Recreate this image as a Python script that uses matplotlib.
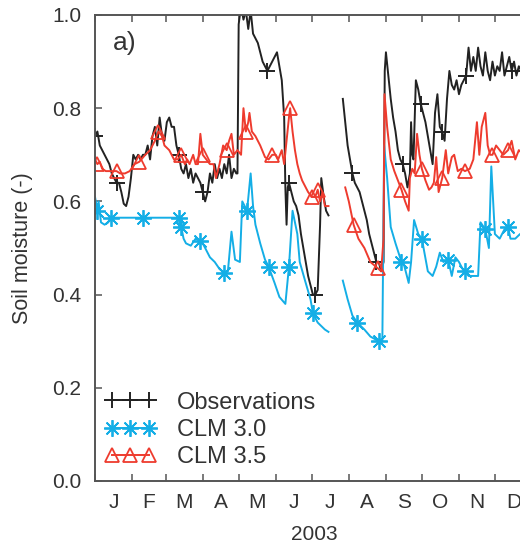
import numpy as np
import matplotlib
matplotlib.use("Agg")
import matplotlib.pyplot as plt

nan = np.nan

# day of year (0 = Jan 1) and soil moisture values
obs_days = [0, 2, 4, 6, 8, 10, 12, 14, 16, 18, 20, 22, 24, 26, 28, 30, 32, 34, 36, 38,
            40, 42, 44, 46, 48, 50, 52, 54, 56, 58, 60, 62, 64, 66, 68, 70, 72, 74, 76, 78,
            80, 82, 84, 86, 88, 90, 92, 94, 96, 98, 100, 102, 104, 106, 108, 110, 112, 114, 116, 118,
            119, 120, 122, 124, 126, 128, 130, 132, 134, 136, 138, 140, 142, 144, 146, 148, 150, 152, 154, 156,
            158, 159, 160, 161, 162, 164, 166, 168, 170, 172, 174, 176, 178, 180, 182, 184, 186, 188, 189, 191,
            193, 195, 200, 207, 209, 211, 213, 215, 217, 219, 221, 223, 225, 227, 229, 231, 233, 235, 237, 239,
            241, 242, 243, 245, 247, 249, 251, 253, 255, 257, 259, 261, 263, 264, 265, 266, 268, 270, 272, 274,
            276, 278, 280, 282, 284, 286, 288, 290, 292, 294, 296, 298, 300, 302, 304, 306, 308, 310, 312, 314,
            316, 318, 320, 322, 324, 326, 328, 330, 332, 334, 336, 338, 340, 342, 344, 346, 348, 350, 352, 354,
            356, 358, 360, 362, 365]
obs_vals = [0.74, 0.75, 0.72, 0.71, 0.70, 0.69, 0.68, 0.66, 0.65, 0.64, 0.64, 0.62, 0.595, 0.59, 0.61, 0.65, 0.70, 0.69, 0.70, 0.69,
            0.70, 0.70, 0.72, 0.69, 0.74, 0.76, 0.72, 0.78, 0.74, 0.73, 0.77, 0.78, 0.76, 0.76, 0.72, 0.70, 0.67, 0.66, 0.68, 0.65,
            0.67, 0.64, 0.66, 0.65, 0.64, 0.62, 0.60, 0.62, 0.66, 0.64, 0.68, 0.65, 0.67, 0.65, 0.68, 0.66, 0.70, 0.65, 0.67, 0.66,
            0.66, 0.98, 1.02, 0.99, 1.01, 0.97, 1.01, 0.96, 0.95, 0.94, 0.92, 0.90, 0.89, 0.88, 0.89, 0.90, 0.91, 0.92, 0.89, 0.86,
            0.78, 0.63, 0.55, 0.63, 0.64, 0.62, 0.60, 0.59, 0.57, 0.53, 0.50, 0.47, 0.44, 0.42, 0.40, 0.40, 0.41, 0.55, 0.65, 0.61,
            0.58, 0.57, nan, 0.82, 0.77, 0.72, 0.69, 0.66, 0.64, 0.63, 0.62, 0.60, 0.58, 0.56, 0.53, 0.51, 0.49, 0.47, 0.47, 0.45,
            0.47, 0.88, 0.92, 0.87, 0.82, 0.78, 0.75, 0.71, 0.69, 0.68, 0.66, 0.63, 0.66, 0.77, 0.70, 0.69, 0.86, 0.84, 0.81, 0.79,
            0.77, 0.74, 0.71, 0.68, 0.79, 0.83, 0.76, 0.75, 0.73, 0.82, 0.88, 0.85, 0.84, 0.86, 0.83, 0.85, 0.86, 0.87, 0.93, 0.88,
            0.91, 0.88, 0.93, 0.89, 0.87, 0.92, 0.88, 0.86, 0.90, 0.87, 0.89, 0.88, 0.92, 0.87, 0.89, 0.91, 0.88, 0.90, 0.87, 0.89,
            0.88, 0.90, 0.87, 0.89, 0.88]
obs_marks = [1, 19, 71, 90, 144, 162, 184, 215, 236, 257, 273, 291, 311, 348]

clm30_days = [0, 2, 3, 5, 8, 11, 13, 40, 70, 72, 74, 76, 80, 84, 88, 90, 93, 96, 100, 104,
              108, 111, 114, 117, 121, 123, 127, 130, 132, 134, 138, 142, 145, 150, 154, 159, 162, 165, 169, 171,
              176, 180, 182, 186, 192, 195, 200, 207, 211, 215, 219, 225, 230, 237, 240, 241.5, 244, 247, 251, 256,
              258, 262, 264, 266.5, 270, 273, 278, 282, 285, 288, 291, 295, 298, 301, 304, 307, 309, 312, 316, 320,
              322, 326, 329, 331, 334, 338, 342, 345, 347, 351, 355, 360, 365]
clm30_vals = [0.61, 0.58, 0.60, 0.555, 0.55, 0.555, 0.565, 0.565, 0.565, 0.545, 0.52, 0.51, 0.505, 0.52, 0.515, 0.51, 0.495, 0.48, 0.47, 0.455,
              0.447, 0.45, 0.535, 0.475, 0.47, 0.60, 0.58, 0.66, 0.59, 0.55, 0.51, 0.475, 0.46, 0.425, 0.395, 0.38, 0.46, 0.58, 0.53, 0.47,
              0.425, 0.39, 0.36, 0.34, 0.325, 0.32, nan, 0.43, 0.39, 0.355, 0.34, 0.325, 0.31, 0.30, 0.30, 0.72, 0.65, 0.545, 0.51, 0.47,
              0.465, 0.425, 0.47, 0.56, 0.53, 0.52, 0.45, 0.44, 0.46, 0.49, 0.47, 0.475, 0.44, 0.48, 0.47, 0.455, 0.45, 0.44, 0.44, 0.44,
              0.555, 0.54, 0.50, 0.675, 0.53, 0.52, 0.54, 0.545, 0.52, 0.52, 0.53, 0.52, 0.53]
clm30_marks = [2, 18, 38, 56, 72, 89, 109, 127, 145, 163, 182, 219, 237, 256, 273, 295, 309, 327, 345]

clm35_days = [0, 2, 4, 6, 9, 13, 18, 21, 25, 29, 33, 37, 42, 46, 50, 53, 56, 58, 62, 66,
              69, 72, 75, 77, 79, 82, 84, 86, 88, 90, 93, 96, 99, 101, 104, 107, 110, 112, 114, 116,
              119, 122, 124, 126, 128, 129, 131, 134, 138, 142, 145, 148, 151, 153, 156, 158, 160, 162, 163, 165,
              167, 169, 171, 173, 175, 178, 181, 184, 186, 188, 190, 192, 195, 200, 209, 212, 216, 220, 225, 230,
              236, 239, 241, 241.8, 244, 247, 250, 253, 256, 259, 262, 263, 265, 267, 269, 271, 273, 276, 279, 281,
              283, 285, 287, 290, 293, 295, 298, 300, 303, 306, 309, 313, 316, 319, 321, 323, 326, 328, 330, 332,
              335, 338, 341, 345, 348, 351, 354, 358, 362, 365]
clm35_vals = [0.69, 0.68, 0.685, 0.67, 0.665, 0.665, 0.665, 0.66, 0.66, 0.665, 0.68, 0.685, 0.70, 0.71, 0.73, 0.75, 0.74, 0.72, 0.71, 0.69,
              0.69, 0.70, 0.68, 0.69, 0.68, 0.70, 0.68, 0.68, 0.745, 0.70, 0.69, 0.68, 0.68, 0.65, 0.68, 0.72, 0.71, 0.73, 0.745, 0.70,
              0.71, 0.70, 0.80, 0.75, 0.77, 0.79, 0.75, 0.74, 0.72, 0.695, 0.69, 0.70, 0.70, 0.69, 0.71, 0.68, 0.73, 0.78, 0.80, 0.75,
              0.71, 0.68, 0.66, 0.645, 0.635, 0.62, 0.61, 0.61, 0.625, 0.60, 0.62, 0.59, 0.59, nan, 0.63, 0.60, 0.55, 0.52, 0.50, 0.47,
              0.457, 0.45, 0.52, 0.83, 0.76, 0.69, 0.665, 0.645, 0.625, 0.60, 0.58, 0.65, 0.67, 0.66, 0.745, 0.70, 0.67, 0.645, 0.625, 0.63,
              0.64, 0.695, 0.62, 0.65, 0.71, 0.66, 0.695, 0.70, 0.665, 0.67, 0.665, 0.67, 0.69, 0.77, 0.70, 0.76, 0.79, 0.72, 0.70, 0.70,
              0.72, 0.71, 0.70, 0.71, 0.73, 0.69, 0.71, 0.70, 0.72, 0.71]
clm35_marks = [2, 18, 38, 54, 73, 90, 109, 126, 148, 164, 181, 186, 216, 236, 256, 273, 291, 309, 332, 345]

month_starts = [0, 31, 59, 90, 120, 151, 181, 212, 243, 273, 304, 334, 365]
month_labels = ["J", "F", "M", "A", "M", "J", "J", "A", "S", "O", "N", "D"]

plt.rcParams['font.family'] = ['Liberation Sans', 'DejaVu Sans']
txt = '#333333'
spine_c = '#555555'


def nearest_idx(days, marks):
    d = np.array(days, dtype=float)
    return [int(np.argmin(np.abs(d - m))) for m in marks]


fig = plt.figure(figsize=(5.2, 5.45), dpi=100)
ax = fig.add_axes([95 / 520, 64 / 545, 437 / 520, 466 / 545])

ax.plot(obs_days, obs_vals, color='#222222', lw=1.4, marker='+', ms=11, mew=1.4,
        markevery=nearest_idx(obs_days, obs_marks), label='Observations')
ax.plot(clm30_days, clm30_vals, color='#14aee6', lw=1.4, marker=(8, 2, 0), ms=12, mew=1.3,
        markevery=nearest_idx(clm30_days, clm30_marks), label='CLM 3.0')
ax.plot(clm35_days, clm35_vals, color='#ee3b2e', lw=1.4, marker='^', ms=10, mew=1.3,
        mfc='none', markevery=nearest_idx(clm35_days, clm35_marks), label='CLM 3.5')

ax.set_xlim(0, 365)
ax.set_ylim(0, 1.0)

ax.set_xticks(month_starts)
ax.set_xticklabels([])
mids = [(month_starts[i] + month_starts[i + 1]) / 2 for i in range(12)]
ax.set_xticks(mids, minor=True)
ax.set_xticklabels(month_labels, minor=True)
ax.tick_params(axis='x', which='major', direction='in', length=5, width=1.1,
               top=True, color=spine_c)
ax.tick_params(axis='x', which='minor', length=0, pad=9, labelsize=15, labelcolor=txt)

ax.set_yticks([0, 0.2, 0.4, 0.6, 0.8, 1.0])
ax.set_yticklabels(["0.0", "0.2", "0.4", "0.6", "0.8", "1.0"])
ax.tick_params(axis='y', direction='in', length=5, width=1.1, pad=10,
               labelsize=15, labelcolor=txt, color=spine_c)

for s in ax.spines.values():
    s.set_color(spine_c)
    s.set_linewidth(1.4)

ax.set_ylabel('Soil moisture (-)', fontsize=15.5, color=txt)
ax.yaxis.set_label_coords(-0.142, 0.5)
ax.set_xlabel('2003', fontsize=15, color=txt)
ax.xaxis.set_label_coords(219 / 437, -0.095)

ax.text(0.04, 0.965, 'a)', transform=ax.transAxes, fontsize=19, color=txt,
        ha='left', va='top')

leg = ax.legend(loc='lower left', bbox_to_anchor=(-0.008, 0.0), frameon=False,
                numpoints=3, handlelength=2.2, handletextpad=0.85, fontsize=17,
                labelspacing=0.22, labelcolor=txt, borderaxespad=0.15)

fig.savefig('out.png', dpi=100)
